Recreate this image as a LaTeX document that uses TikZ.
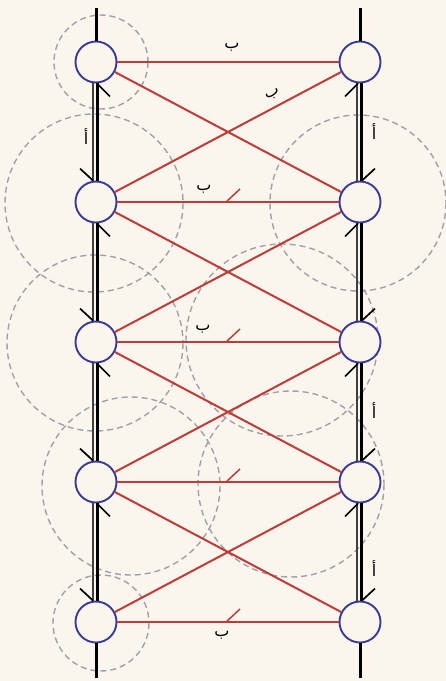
\documentclass[tikz,border=0pt]{standalone}
\usepackage{fontspec}
\newfontfamily\arabicfont[Script=Arabic]{DejaVu Sans}
\TeXXeTstate=1
\definecolor{paper}{RGB}{250,246,237}
\definecolor{wire}{RGB}{192,58,56}
\definecolor{ring}{RGB}{58,58,150}
\definecolor{guide}{RGB}{160,160,168}
\tikzset{
  junc/.style={circle, draw=ring, line width=1.9pt, fill=paper, minimum size=41pt, inner sep=0pt},
  guidering/.style={draw=guide, line width=1.4pt, dash pattern=on 6pt off 4pt},
  wireline/.style={draw=wire, line width=2pt},
  railthin/.style={draw=black!75, line width=1.3pt},
  railthick/.style={draw=black, line width=2.4pt},
  railtick/.style={draw=black, line width=1.7pt},
  lbl/.style={font=\arabicfont\fontsize{16}{16}\selectfont, inner sep=0pt}
}
\begin{document}
\begin{tikzpicture}[x=1pt, y=-1pt]
                \useasboundingbox (0,0) rectangle (446,681);
                \fill[paper] (0,0) rectangle (446,681);

                % Dashed guide circles
                \draw[guidering] (101,62) circle (47);
                \draw[guidering] (94,203) circle (89);
                \draw[guidering] (95,343) circle (88);
                \draw[guidering] (131,486) circle (89);
                \draw[guidering] (101,623) circle (48);
                \draw[guidering] (358,203) circle (88);
                \draw[guidering] (282,340) circle (96);
                \draw[guidering] (291,484) circle (93);

                % Junctions
                \foreach \i in {1,...,5} {
                    \pgfmathsetmacro\yy{62+140*(\i-1)}
                    \node[junc] (L\i) at (96,\yy) {};
                    \node[junc] (R\i) at (360,\yy) {};
                }
                \coordinate (Ltop) at (96.5,8);
                \coordinate (Rtop) at (360.5,8);
                \coordinate (Lbot) at (96.5,678);
                \coordinate (Rbot) at (360.5,678);

                % Rails
                \draw[black, line width=3.2pt] (Ltop) -- ([xshift=0.5pt]L1.north);
                \draw[black, line width=3.2pt] (Rtop) -- ([xshift=0.5pt]R1.north);
                \draw[black, line width=3.2pt] (Lbot) -- ([xshift=0.5pt]L5.south);
                \draw[black, line width=3.2pt] (Rbot) -- ([xshift=0.5pt]R5.south);
                \foreach \i/\j in {1/2,2/3,3/4,4/5} {
                    \draw[railthin] ([xshift=-3pt]L\i.south) -- ([xshift=-3pt]L\j.north);
                    \draw[railthick] ([xshift=1.5pt]L\i.south) -- ([xshift=1.5pt]L\j.north);
                    \draw[railthin] ([xshift=-3pt]R\i.south) -- ([xshift=-3pt]R\j.north);
                    \draw[railthick] ([xshift=1.5pt]R\i.south) -- ([xshift=1.5pt]R\j.north);
                    % half arrow marks
                    \draw[railtick] ([xshift=1pt]L\i.south) -- ++(13,13);
                    \draw[railtick] ([xshift=-3pt]L\j.north) -- ++(-13,-12);
                    \draw[railtick] ([xshift=-2pt]R\i.south) -- ++(-13,13);
                    \draw[railtick] ([xshift=2pt]R\j.north) -- ++(13,-12);
                }

                % Links
                \draw[wireline, line width=1.3pt] (L1) -- (R1);
                \foreach \i in {2,...,5} {
                    \draw[wireline] (L\i) -- (R\i) coordinate[pos=0.5] (m\i);
                    \draw[wire, line width=1.5pt] ([xshift=-2pt]m\i) -- ++(14,-13);
                }
                \foreach \i/\j in {1/2,2/3,3/4,4/5} {
                    \draw[wireline] (L\i) -- (R\j);
                    \draw[wireline] (L\j) -- (R\i);
                }

                % Labels
                \node[lbl] (b1) at (232,47) {\beginR ب\endR};
                \node[lbl, rotate=28] (bd) at (273,95) {\beginR ب\endR};
                \node[lbl] (b2) at (204,189) {\beginR ب\endR};
                \node[lbl] (b3) at (203,329) {\beginR ب\endR};
                \node[lbl] (b5) at (222,635) {\beginR ب\endR};
                \node[lbl] (a1) at (86,137) {\beginR أ\endR};
                \node[lbl] (a2) at (374,132) {\beginR أ\endR};
                \node[lbl] (a3) at (374,411) {\beginR أ\endR};
                \node[lbl] (a4) at (374,569) {\beginR أ\endR};
\end{tikzpicture}
\end{document}
